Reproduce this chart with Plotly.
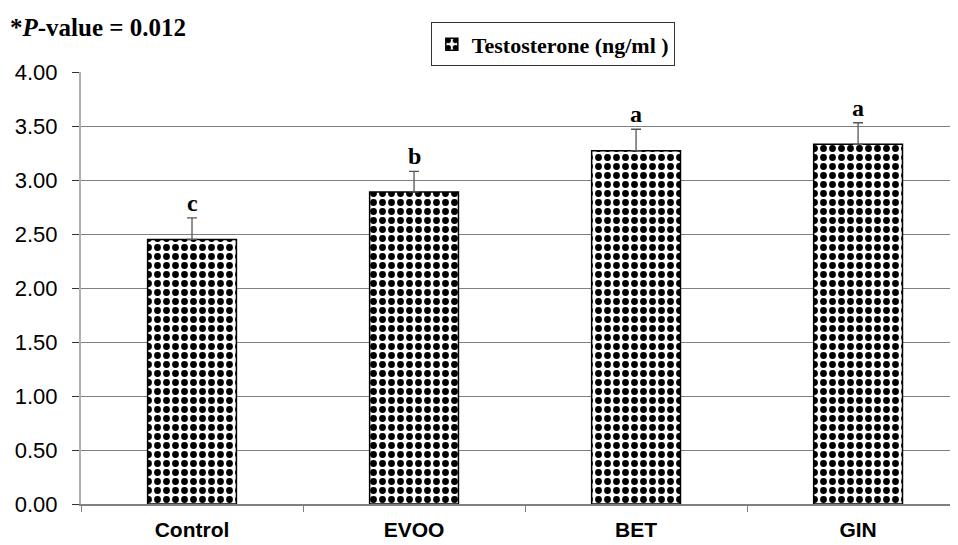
import plotly.graph_objects as go

categories = ["Control", "EVOO", "BET", "GIN"]
testosterone = [2.45, 2.89, 3.27, 3.33]
errors = [0.20, 0.19, 0.20, 0.20]
letters = ["c", "b", "a", "a"]
y_ticks = [0, 0.5, 1.0, 1.5, 2.0, 2.5, 3.0, 3.5, 4.0]
y_tick_labels = ["%.2f" % v for v in y_ticks]

fig = go.Figure()
fig.add_trace(go.Bar(
    x=categories, y=testosterone, width=0.4,
    name="<b>Testosterone (ng/ml )</b>",
    marker=dict(color="white", line=dict(color="black", width=1.5),
                pattern=dict(shape=".", fgcolor="black", bgcolor="white",
                             size=9, solidity=0.45, fillmode="replace")),
    error_y=dict(type="data", array=errors, arrayminus=[0]*len(errors),
                 symmetric=False, color="#555555", thickness=1.3, width=5),
))

for c, v, e, l in zip(categories, testosterone, errors, letters):
    fig.add_annotation(x=c, y=v + e, text="<b>%s</b>" % l, showarrow=False,
                       yanchor="bottom", yshift=0,
                       font=dict(family="Liberation Serif", size=24, color="black"))

fig.add_annotation(xref="paper", yref="paper", x=-0.083, y=1.104, xanchor="left", yanchor="middle",
                   text="<b>*<i>P</i>-value = 0.012</b>", showarrow=False,
                   font=dict(family="Liberation Serif", size=25, color="black"))

fig.update_layout(
    width=950, height=537,
    margin=dict(l=73, r=0, t=64, b=41, autoexpand=False),
    plot_bgcolor="white", paper_bgcolor="white",
    showlegend=True,
    legend=dict(x=0.538, y=1.064, xanchor="center", yanchor="middle",
                orientation="h", bordercolor="#333333", borderwidth=1,
                font=dict(family="Liberation Serif", size=22, color="black"),
                itemwidth=30),
)

fig.update_xaxes(range=[-0.5, 3.45], showline=True, linecolor="#808080", linewidth=1.5,
                 ticks="outside", tickson="boundaries", ticklen=6, tickcolor="#808080",
                 tickfont=dict(family="Liberation Sans", size=21, color="black"),
                 ticktext=["<b>%s</b>" % c for c in categories], tickvals=categories,
                 ticklabelstandoff=6,
                 showgrid=False, zeroline=False)
fig.update_yaxes(range=[0, 4.0], tickvals=y_ticks, ticktext=y_tick_labels,
                 showline=True, linecolor="#b0b0b0", linewidth=2,
                 ticks="outside", ticklen=7, tickcolor="#333333",
                 ticklabelstandoff=10,
                 tickfont=dict(family="Liberation Sans", size=22, color="black"),
                 showgrid=True, gridcolor="#808080", gridwidth=1, zeroline=False)

fig.write_html("out.html")
